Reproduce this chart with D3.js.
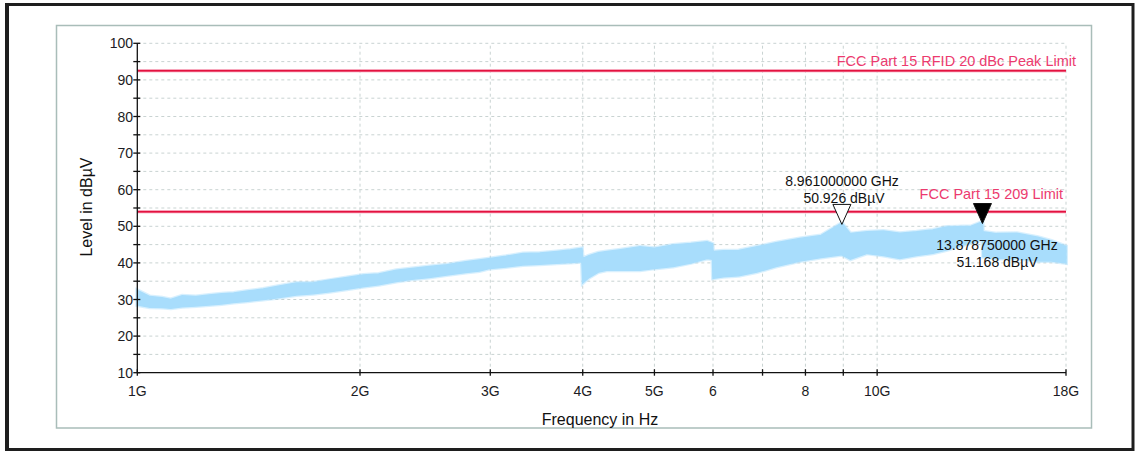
<!DOCTYPE html>
<html lang="en">
<head>
  <meta charset="UTF-8">
  <title>Spectrum 1G - 18G</title>
  <style>
    * { box-sizing: border-box; margin: 0; }
    body { width: 1135px; height: 451px; background: #fff; overflow: hidden; }
    svg { display: block; font-family: "Liberation Sans", Arial, sans-serif; }
    .grid line { stroke: #c9d3d2; stroke-dasharray: 3,3; stroke-width: 1; }
    .tick-lbl { font-size: 14px; fill: #1c1c24; }
    .limit-lbl { font-size: 14.5px; fill: #ec3a6e; }
    .mk-lbl { font-size: 14px; fill: #111; }
  </style>
</head>
<body>
  <svg></svg>
  <script src="https://d3js.org/d3.v7.min.js"></script>
  <script>
    // trace envelope (GHz, dBuV)
    const freqGHz = [1.00, 1.04, 1.08, 1.11, 1.15, 1.20, 1.25, 1.30, 1.35, 1.41,
                     1.48, 1.55, 1.64, 1.73, 1.82, 1.92, 2.02, 2.12, 2.24, 2.35,
                     2.48, 2.62, 2.78, 2.90, 3.00, 3.15, 3.32, 3.50, 3.69, 3.85,
                     3.99, 4.00, 4.08, 4.20, 4.31, 4.50, 4.78, 5.00, 5.30, 5.60,
                     5.89, 5.99, 6.00, 6.20, 6.50, 6.88, 7.30, 7.86, 8.40, 8.96,
                     9.20, 9.69, 10.2, 10.73, 11.3, 11.89, 12.4, 12.82, 13.40, 13.88,
                     13.90, 14.5, 15.45, 16.5, 17.2, 18.0];
    const upper   = [32.5, 30.8, 30.5, 30.0, 31.0, 30.8, 31.2, 31.6, 31.8, 32.3,
                     32.9, 33.6, 34.5, 34.6, 35.3, 36.0, 36.7, 37.0, 38.0, 38.5,
                     39.0, 39.5, 40.3, 40.8, 41.2, 41.8, 42.6, 42.7, 43.1, 43.5,
                     44.0, 41.2, 42.0, 42.8, 43.1, 43.6, 44.4, 44.0, 44.9, 45.3,
                     45.8, 45.2, 43.1, 43.3, 43.4, 44.4, 45.5, 46.7, 47.5, 50.9,
                     48.0, 48.5, 48.7, 48.1, 48.5, 49.0, 49.8, 49.9, 50.0, 51.2,
                     48.5, 48.0, 48.1, 47.0, 46.0, 44.5];
    const lower   = [28.5, 27.9, 27.8, 27.6, 28.0, 28.2, 28.5, 28.8, 29.2, 29.5,
                     30.0, 30.5, 31.2, 31.6, 32.1, 32.8, 33.5, 34.0, 34.9, 35.5,
                     36.0, 36.7, 37.4, 37.8, 38.5, 38.9, 39.4, 39.6, 39.9, 40.1,
                     40.3, 34.5, 36.0, 37.5, 38.0, 38.0, 38.0, 38.5, 39.0, 40.0,
                     41.2, 41.0, 35.8, 36.2, 36.5, 37.5, 39.0, 40.5, 41.5, 42.2,
                     41.0, 42.6, 42.0, 41.2, 42.0, 42.6, 43.5, 44.4, 45.5, 46.3,
                     41.7, 41.2, 41.2, 40.5, 40.5, 40.0];

    const limitNames  = ['FCC Part 15 RFID 20 dBc Peak Limit', 'FCC Part 15 209 Limit'];
    const limitLevels = [92.5, 54];

    const markerFreq   = [8.961, 13.87875];
    const markerLevel  = [50.926, 51.168];
    const markerFilled = [false, true];
    const markerText   = [['8.961000000 GHz', '50.926 dB\u00b5V'], ['13.878750000 GHz', '51.168 dB\u00b5V']];

    const xTicks      = [1, 2, 3, 4, 5, 6, 7, 8, 9, 10, 18];
    const xTickLabels = ['1G', '2G', '3G', '4G', '5G', '6', '', '8', '', '10G', '18G'];
    const yMajor      = [10, 20, 30, 40, 50, 60, 70, 80, 90, 100];
    const yMinor      = [15, 25, 35, 45, 55, 65, 75, 85, 95];

    const width = 1135, height = 451;
    const svg = d3.select('svg').attr('width', width).attr('height', height);

    // outer frame + inner panel
    svg.append('rect').attr('x', 7).attr('y', 4.5).attr('width', 1126).attr('height', 445)
      .attr('fill', 'none').attr('stroke', '#1e1e1e').attr('stroke-width', 3);
    svg.append('rect').attr('x', 5).attr('y', 3).attr('width', 4).attr('height', 448).attr('fill', '#1e1e1e');
    svg.append('rect').attr('x', 56.5).attr('y', 25.5).attr('width', 1035).attr('height', 402.5)
      .attr('fill', '#fff').attr('stroke', '#a9bdb9').attr('stroke-width', 1.5);

    const x = d3.scaleLog().domain([1, 18]).range([137.3, 1066]);
    const y = d3.scaleLinear().domain([10, 100]).range([372.7, 43.3]);

    // grid
    const grid = svg.append('g').attr('class', 'grid');
    grid.selectAll('.h').data(yMajor.concat(yMinor).filter(v => v > 10)).join('line')
      .attr('x1', x(1)).attr('x2', x(18))
      .attr('y1', d => y(d)).attr('y2', d => y(d));
    grid.selectAll('.v').data(xTicks.filter(v => v > 1)).join('line')
      .attr('x1', d => x(d)).attr('x2', d => x(d))
      .attr('y1', y(10)).attr('y2', y(100));

    // trace band (soft edge imitates the noisy sweep)
    const band = freqGHz.map((f, i) => ({f, hi: upper[i], lo: lower[i]}));
    const area = d3.area().x(d => x(d.f)).y0(d => y(d.lo)).y1(d => y(d.hi));
    svg.append('path').datum(band).attr('d', area)
      .attr('fill', 'none').attr('stroke', '#a8ddfc').attr('stroke-opacity', 0.45).attr('stroke-width', 4);
    svg.append('path').datum(band).attr('d', area)
      .attr('fill', '#a8ddfc').attr('stroke', '#a8ddfc').attr('stroke-width', 1.5);

    // limit lines
    limitLevels.forEach((lv, i) => {
      svg.append('line').attr('x1', x(1)).attr('x2', x(18))
        .attr('y1', y(lv)).attr('y2', y(lv))
        .attr('stroke', '#f48aa6').attr('stroke-width', 3);
      svg.append('line').attr('x1', x(1)).attr('x2', x(18))
        .attr('y1', y(lv)).attr('y2', y(lv))
        .attr('stroke', '#e3123f').attr('stroke-width', 1.5);
    });
    svg.append('text').attr('class', 'limit-lbl').attr('text-anchor', 'end')
      .attr('x', 1076).attr('y', y(limitLevels[0]) - 4.5).text(limitNames[0]);
    svg.append('text').attr('class', 'limit-lbl').attr('text-anchor', 'end')
      .attr('x', 1063).attr('y', y(limitLevels[1]) - 13).text(limitNames[1]);

    // axes
    const axes = svg.append('g').attr('stroke', '#111').attr('stroke-width', 1.3);
    axes.append('line').attr('x1', x(1)).attr('x2', x(1)).attr('y1', y(100)).attr('y2', y(10));
    axes.append('line').attr('x1', x(1)).attr('x2', x(18)).attr('y1', y(10)).attr('y2', y(10));
    axes.selectAll('.yt').data(yMajor.concat(yMinor)).join('line')
      .attr('x1', x(1) - 4).attr('x2', x(1) + 3)
      .attr('y1', d => y(d)).attr('y2', d => y(d));
    axes.selectAll('.xt').data(xTicks).join('line')
      .attr('x1', d => x(d)).attr('x2', d => x(d))
      .attr('y1', y(10) - 3.5).attr('y2', y(10) + 3);

    svg.selectAll('.ylbl').data(yMajor).join('text')
      .attr('class', 'tick-lbl').attr('text-anchor', 'end')
      .attr('x', 133).attr('y', d => y(d) + 5).text(d => d);
    svg.selectAll('.xlbl').data(xTicks).join('text')
      .attr('class', 'tick-lbl').attr('text-anchor', 'middle')
      .attr('x', d => x(d)).attr('y', 396).text((d, i) => xTickLabels[i]);

    svg.append('text').attr('text-anchor', 'middle').attr('font-size', 16).attr('fill', '#111')
      .attr('x', 600).attr('y', 425).text('Frequency in Hz');
    svg.append('text').attr('text-anchor', 'middle').attr('font-size', 16).attr('fill', '#111')
      .attr('transform', 'translate(92,207) rotate(-90)').text('Level in dB\u00b5V');

    // markers
    markerFreq.forEach((f, i) => {
      const mx = x(f), my = y(markerLevel[i]) + 1.5;
      svg.append('path')
        .attr('d', `M${mx},${my} L${mx - 9},${my - 20} L${mx + 9},${my - 20} Z`)
        .attr('fill', markerFilled[i] ? '#000' : '#fff')
        .attr('stroke', '#111').attr('stroke-width', 1);
    });
    const lbl = svg.append('g').attr('class', 'mk-lbl').attr('text-anchor', 'middle');
    lbl.append('text').attr('x', 842).attr('y', 186).text(markerText[0][0]);
    lbl.append('text').attr('x', 844).attr('y', 203).text(markerText[0][1]);
    lbl.append('text').attr('x', 997).attr('y', 250).text(markerText[1][0]);
    lbl.append('text').attr('x', 997).attr('y', 267).text(markerText[1][1]);
  </script>
</body>
</html>
